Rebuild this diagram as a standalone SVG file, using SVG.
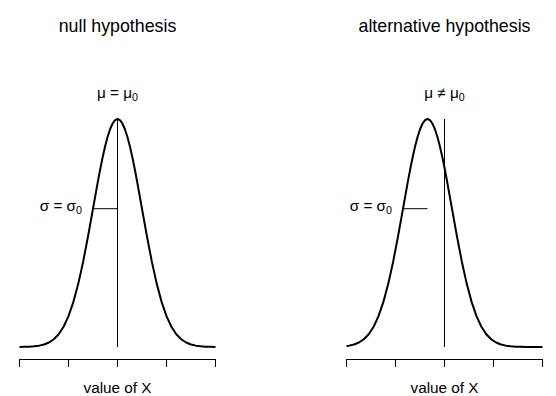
<svg xmlns="http://www.w3.org/2000/svg" xmlns:xlink="http://www.w3.org/1999/xlink" width="556" height="396" viewBox="0 0 556 396">
<style>
text{font-family:"Liberation Sans",Arial,sans-serif;fill:#000}
.title{font-size:17.8px;text-anchor:middle}
.lab{font-size:15.3px}
.sub{font-size:10.7px}
.curve{fill:none;stroke:#000;stroke-width:2;stroke-linejoin:round}
.thin{fill:none;stroke:#000;stroke-width:1}
</style>
<defs>
<path id="bell" d="M-125,347 L-98,346.92 L-93.1,346.83 L-88.2,346.65 L-83.3,346.3 L-78.4,345.64 L-73.5,344.47 L-68.6,342.48 L-63.7,339.24 L-58.8,334.2 L-53.9,326.73 L-49,316.14 L-44.1,301.88 L-39.2,283.61 L-34.3,261.43 L-29.4,236.02 L-24.5,208.71 L-19.6,181.44 L-17.15,168.54 L-14.7,156.56 L-12.25,145.79 L-9.8,136.53 L-7.35,129.03 L-4.9,123.51 L-2.45,120.14 L0,119 L2.45,120.14 L4.9,123.51 L7.35,129.03 L9.8,136.53 L12.25,145.79 L14.7,156.56 L17.15,168.54 L19.6,181.44 L24.5,208.71 L29.4,236.02 L34.3,261.43 L39.2,283.61 L44.1,301.88 L49,316.14 L53.9,326.73 L58.8,334.2 L63.7,339.24 L68.6,342.48 L73.5,344.47 L78.4,345.64 L83.3,346.3 L88.2,346.65 L93.1,346.83 L98,346.92 L125,347"/>
<clipPath id="clipL"><rect x="19.5" y="100" width="196" height="260"/></clipPath>
<clipPath id="clipR"><rect x="346.5" y="100" width="196" height="260"/></clipPath>
</defs>

<g id="null-panel">
<text class="title" x="117.5" y="31.5">null hypothesis</text>
<g id="null-curve" clip-path="url(#clipL)"><use xlink:href="#bell" href="#bell" class="curve" transform="translate(117.5,0)"/></g>
<line class="thin" x1="117.5" y1="119" x2="117.5" y2="347"/>
<line class="thin" x1="93" y1="208.7" x2="117.5" y2="208.7"/>
<text class="lab" x="117.5" y="98" text-anchor="middle">μ = μ<tspan class="sub" dy="3">0</tspan></text>
<text class="lab" x="82" y="211" text-anchor="end">σ = σ<tspan class="sub" dy="3.3">0</tspan></text>
<g id="null-axis">
<path class="thin" d="M19.5,359.5 H215.5 M19.5,359 V367 M68.5,359 V367 M117.5,359 V367 M166.5,359 V367 M215.5,359 V367"/>
</g>
<text class="lab" x="117.5" y="393" text-anchor="middle">value of X</text>
</g>

<g id="alt-panel">
<text class="title" x="444.5" y="31.5">alternative hypothesis</text>
<g id="alt-curve" clip-path="url(#clipR)"><use xlink:href="#bell" href="#bell" class="curve" transform="translate(427.5,0)"/></g>
<line class="thin" x1="444.5" y1="119" x2="444.5" y2="347"/>
<line class="thin" x1="403" y1="208.7" x2="427.5" y2="208.7"/>
<text class="lab" x="444.5" y="98" text-anchor="middle">μ ≠ μ<tspan class="sub" dy="3">0</tspan></text>
<text class="lab" x="392" y="211" text-anchor="end">σ = σ<tspan class="sub" dy="3.3">0</tspan></text>
<g id="alt-axis">
<path class="thin" d="M346.5,359.5 H542.5 M346.5,359 V367 M395.5,359 V367 M444.5,359 V367 M493.5,359 V367 M542.5,359 V367"/>
</g>
<text class="lab" x="444.5" y="393" text-anchor="middle">value of X</text>
</g>
</svg>
